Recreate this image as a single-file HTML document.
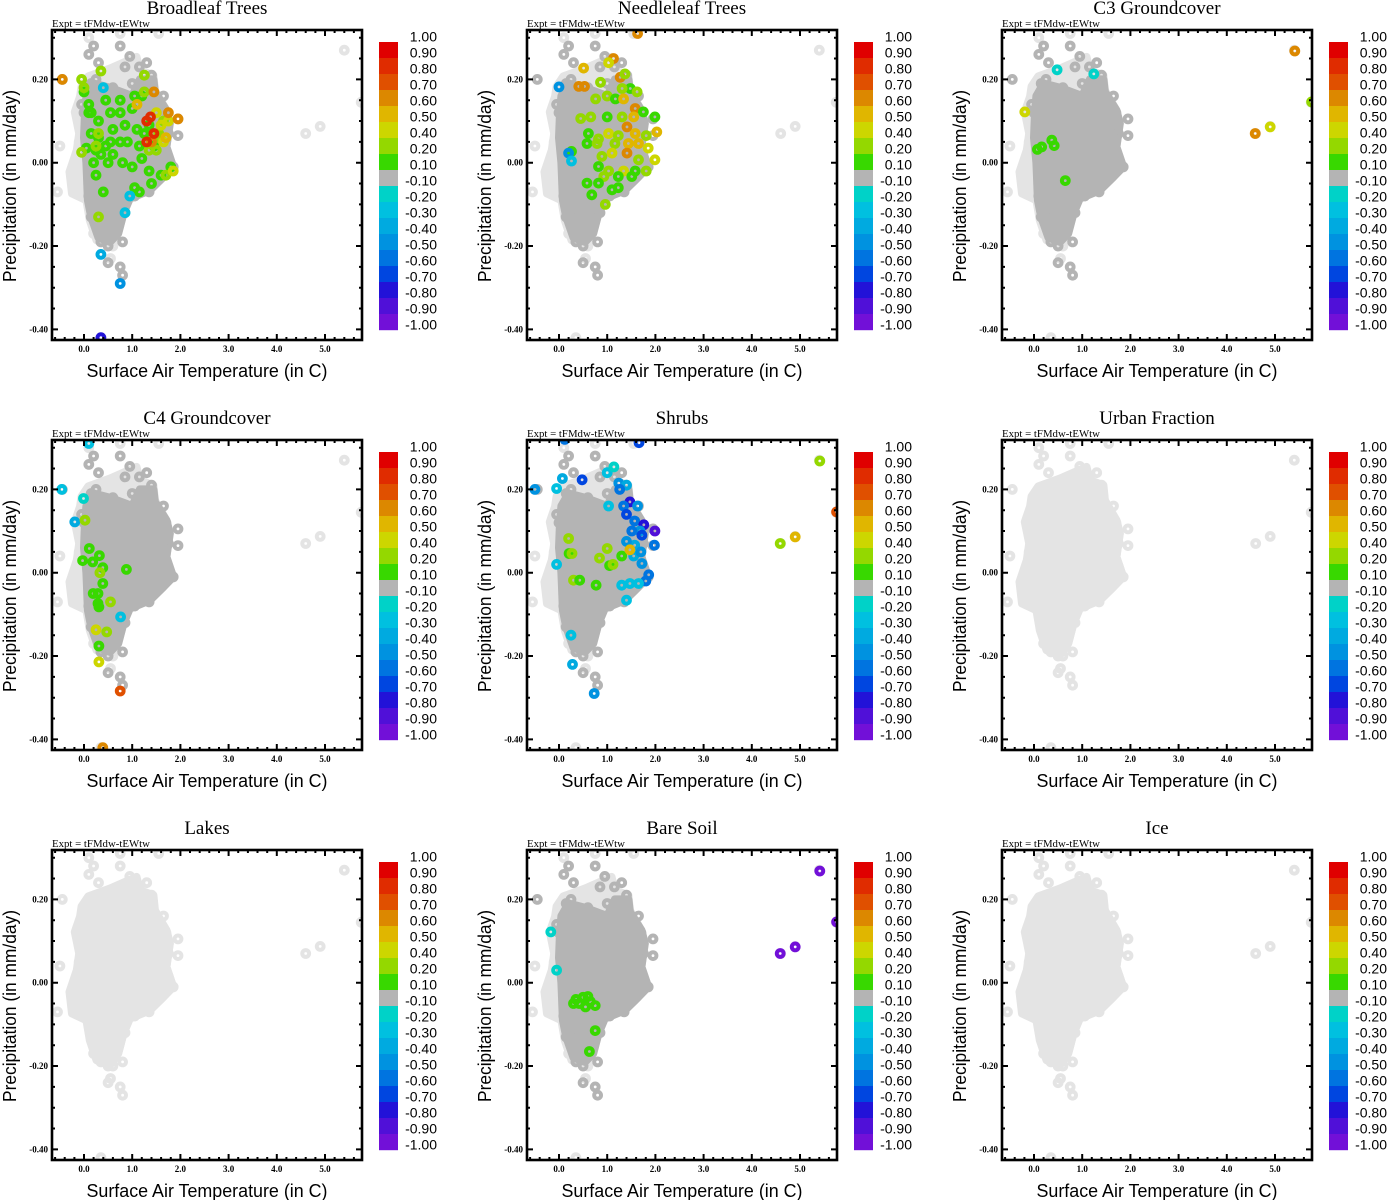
<!DOCTYPE html>
<html><head><meta charset="utf-8"><style>
html,body{margin:0;padding:0;background:#fff;}
svg{display:block;}
.ser{font-family:"Liberation Serif",serif;}
.sans{font-family:"Liberation Sans",sans-serif;}
</style></head><body>
<svg id="fig" width="1387" height="1200" viewBox="0 0 1387 1200"></svg>
<script>
// ---- data ----
const panelTitles = ["Broadleaf Trees","Needleleaf Trees","C3 Groundcover","C4 Groundcover","Shrubs","Urban Fraction","Lakes","Bare Soil","Ice"];
const panelLight = [false,false,false,false,false,true,true,false,true];
const xTicks = [0,1,2,3,4,5];
const xTickLabels = ["0.0","1.0","2.0","3.0","4.0","5.0"];
const yTicks = [0.2,0,-0.2,-0.4];
const yTickLabels = ["0.20","0.00","-0.20","-0.40"];
const cbEdges = [1,0.9,0.8,0.7,0.6,0.5,0.4,0.2,0.1,-0.1,-0.2,-0.3,-0.4,-0.5,-0.6,-0.7,-0.8,-0.9,-1];
const cbLabels = ["1.00","0.90","0.80","0.70","0.60","0.50","0.40","0.20","0.10","-0.10","-0.20","-0.30","-0.40","-0.50","-0.60","-0.70","-0.80","-0.90","-1.00"];
const cbColors = ["#e00000","#e02c00","#e05000","#dc8800","#e0b600","#cdd600","#94d800","#38d800","#b4b4b4","#00d2c8","#00c0e0","#00aae0","#0092e0","#0074e0","#0046e0","#2212d8","#5010d8","#7210d8"];
// cloud outline (T,P)
const haloT = [-0.05,0.09,0.54,1.09,1.16,1.44,1.47,1.71,1.78,1.71,1.85,1.65,1.37,0.95,0.82,0.71,0.54,0.26,0.12,0.05,-0.25,-0.3,-0.15,-0.1,-0.19,-0.08];
const haloP = [0.183,0.207,0.226,0.254,0.222,0.21,0.174,0.126,0.094,0.038,-0.01,-0.034,-0.066,-0.086,-0.122,-0.17,-0.198,-0.186,-0.138,-0.09,-0.074,-0.022,0.03,0.07,0.122,0.159];
const coreT = [0.05,0.2,0.54,1.0,1.16,1.44,1.47,1.71,1.78,1.71,1.85,1.65,1.37,0.95,0.82,0.71,0.54,0.3,0.15,0.08,0.05,0.0,0.02];
const coreP = [0.16,0.19,0.18,0.16,0.2,0.2,0.17,0.126,0.094,0.038,-0.01,-0.034,-0.066,-0.086,-0.122,-0.17,-0.19,-0.18,-0.13,-0.09,0.0,0.06,0.12];
// ring gray points (dark in vegetation panels)
const grayT = [0.2,0.75,0.95,0.85,0.3,1.4,0.25,1.0,1.2,1.65,0.15,0.6,-0.45,1.95,1.95,1.85,1.55,1.35,1.05,0.85,0.8,0.75,0.8,0.5,0.5,0.35,0.15,0.1,-0.05,0.0,1.7,1.75,1.6,0.3,0.65,0.7,0.45,1.2,0.1,1.3,1.15,0.4];
const grayP = [0.28,0.28,0.255,0.23,0.24,0.21,0.2,0.19,0.17,0.16,0.19,0.18,0.2,0.065,0.105,-0.01,-0.04,-0.07,-0.08,-0.12,-0.19,-0.25,-0.27,-0.24,-0.2,-0.19,-0.13,-0.08,0.14,0.12,0.12,0.07,0.1,-0.12,-0.16,-0.1,-0.14,0.13,0.26,0.24,0.23,0.15];
// light halo points (always light)
const lightT = [-0.5,-0.55,-0.2,-0.25,0.0,-0.05,0.1,0.55,0.65,1.55,0.75,5.4,4.6,4.9,5.75,0.35,0.55,0.15,-0.1,-0.1,0.0,0.6,0.2];
const lightP = [0.04,-0.07,-0.07,-0.03,-0.04,-0.08,0.3,0.22,0.2,0.31,0.31,0.27,0.07,0.087,0.145,-0.42,-0.23,-0.1,0.0,0.05,0.02,-0.2,-0.17];
// coloured points per panel: [T,P,value]
const broadleafPts = [[0.0,0.17,0.15],[0.1,0.14,0.15],[0.45,0.15,0.15],[0.75,0.15,0.15],[1.05,0.16,0.15],[1.0,0.13,0.15],[0.1,0.12,0.15],[0.15,0.12,0.15],[0.3,0.1,0.15],[0.55,0.12,0.15],[0.6,0.08,0.15],[0.85,0.09,0.15],[1.1,0.08,0.15],[1.25,0.07,0.15],[0.15,0.07,0.15],[0.3,0.06,0.15],[0.55,0.05,0.15],[0.75,0.05,0.15],[0.9,0.05,0.15],[1.15,0.04,0.15],[0.05,0.035,0.15],[0.25,0.03,0.15],[0.45,0.04,0.15],[0.2,0.0,0.15],[0.35,0.02,0.15],[0.6,0.02,0.15],[0.8,0.0,0.15],[1.0,-0.01,0.15],[1.2,0.01,0.15],[1.35,-0.02,0.15],[1.6,-0.03,0.15],[1.8,-0.01,0.15],[1.05,-0.06,0.15],[1.15,-0.07,0.15],[1.4,-0.05,0.15],[0.4,-0.07,0.15],[0.25,-0.03,0.15],[0.5,0.0,0.15],[1.2,0.16,0.15],[0.75,0.12,0.15],[1.35,0.09,0.15],[1.45,0.04,0.15],[0.35,0.22,0.3],[1.25,0.21,0.3],[-0.05,0.2,0.3],[0.0,0.18,0.3],[0.3,0.07,0.3],[0.25,0.04,0.3],[-0.05,0.025,0.3],[1.25,0.17,0.3],[1.55,0.07,0.3],[1.65,0.1,0.3],[1.5,0.03,0.3],[1.55,0.06,0.3],[0.3,-0.13,0.3],[1.7,-0.03,0.3],[1.35,0.03,0.3],[1.6,0.09,0.45],[1.5,0.12,0.45],[1.75,0.1,0.45],[1.85,-0.02,0.45],[1.65,0.05,0.45],[-0.45,0.2,0.65],[1.45,0.17,0.65],[1.1,0.14,0.55],[1.75,0.12,0.65],[1.95,0.105,0.65],[1.4,0.05,0.65],[1.7,0.06,0.55],[1.3,0.1,0.85],[1.38,0.11,0.85],[1.45,0.07,0.85],[1.3,0.05,0.85],[0.35,-0.22,-0.35],[0.75,-0.29,-0.45],[0.85,-0.12,-0.3],[0.95,-0.08,-0.25],[0.35,-0.42,-0.75],[0.4,0.18,-0.25]];
const needlePts = [[1.13,0.25,0.65],[1.03,0.24,0.45],[0.51,0.227,0.5],[1.27,0.205,0.6],[1.37,0.213,0.3],[0.86,0.193,0.35],[0.41,0.183,0.6],[0.53,0.183,0.6],[0.0,0.182,-0.45],[1.48,0.178,0.15],[1.31,0.178,0.35],[1.62,0.17,0.3],[0.76,0.153,0.35],[1.0,0.16,0.3],[1.17,0.153,0.15],[1.34,0.153,0.55],[1.58,0.13,0.65],[1.75,0.122,0.15],[1.99,0.11,0.15],[0.45,0.106,0.3],[0.66,0.11,0.3],[1.0,0.11,0.15],[1.31,0.11,0.35],[1.55,0.11,0.5],[1.41,0.086,0.65],[1.58,0.07,0.5],[2.03,0.074,0.55],[0.61,0.07,0.15],[0.82,0.057,0.3],[1.03,0.07,0.45],[1.23,0.065,0.3],[1.81,0.065,0.3],[0.58,0.046,0.15],[0.79,0.046,0.3],[1.16,0.046,0.35],[1.44,0.046,0.5],[1.65,0.046,0.55],[1.85,0.035,0.45],[1.41,0.023,0.65],[1.1,0.023,0.45],[0.89,0.015,0.3],[0.26,0.027,0.15],[1.65,0.007,0.3],[1.99,0.007,0.45],[0.82,-0.009,0.15],[1.03,-0.02,0.3],[1.34,-0.02,0.45],[1.58,-0.02,0.15],[1.81,-0.02,0.3],[0.93,-0.033,0.3],[1.23,-0.033,0.15],[1.51,-0.033,0.15],[0.58,-0.049,0.15],[0.82,-0.049,0.15],[1.1,-0.065,0.15],[1.23,-0.06,0.15],[0.68,-0.077,0.15],[0.96,-0.1,0.3],[0.2,0.023,-0.45],[0.26,0.004,-0.25],[1.63,0.31,0.65]];
const c3Pts = [[0.48,0.223,-0.2],[1.24,0.213,-0.2],[-0.19,0.122,0.45],[0.07,0.032,0.15],[0.16,0.038,0.15],[0.37,0.054,0.15],[0.42,0.041,0.15],[0.65,-0.043,0.15],[5.41,0.268,0.65],[4.59,0.07,0.65],[4.9,0.086,0.45],[5.76,0.146,0.3]];
const c4Pts = [[-0.46,0.2,-0.25],[-0.01,0.178,-0.2],[-0.19,0.122,-0.4],[0.02,0.126,0.3],[0.11,0.058,0.15],[0.32,0.041,0.15],[-0.03,0.029,0.15],[0.18,0.026,0.15],[0.39,0.012,0.15],[0.33,0.0,0.3],[0.88,0.008,0.15],[0.39,-0.026,0.15],[0.19,-0.05,0.15],[0.29,-0.05,0.15],[0.29,-0.074,0.15],[0.31,-0.082,0.15],[0.55,-0.07,0.3],[0.76,-0.106,-0.25],[0.25,-0.137,0.45],[0.47,-0.142,0.3],[0.31,-0.176,0.15],[0.31,-0.214,0.45],[0.75,-0.284,0.75],[0.39,-0.42,0.65],[0.1,0.31,-0.25]];
const shrubPts = [[-0.5,0.2,-0.5],[-0.05,0.202,-0.25],[0.12,0.32,-0.55],[1.66,0.312,-0.7],[0.48,0.223,-0.65],[1.0,0.24,-0.3],[1.14,0.254,-0.2],[1.24,0.215,-0.5],[1.4,0.21,-0.4],[1.26,0.2,-0.6],[1.47,0.17,-0.8],[1.63,0.16,-0.5],[1.34,0.16,-0.55],[1.4,0.14,-0.7],[1.57,0.124,-0.6],[1.76,0.115,-0.8],[1.99,0.1,-0.85],[1.68,0.1,-0.5],[1.51,0.1,-0.6],[1.72,0.09,-0.7],[1.98,0.066,-0.55],[1.57,0.066,-0.4],[1.4,0.075,-0.45],[1.72,0.022,-0.5],[1.86,-0.005,-0.55],[1.8,-0.02,-0.6],[1.65,-0.026,-0.3],[1.47,-0.026,-0.3],[1.3,-0.03,-0.25],[1.4,-0.066,-0.25],[0.07,0.226,-0.4],[-0.05,0.02,-0.25],[0.25,-0.15,-0.3],[0.28,-0.22,-0.35],[0.73,-0.29,-0.5],[1.03,0.16,-0.3],[1.55,0.04,-0.35],[1.7,0.05,-0.45],[0.2,0.082,0.3],[0.21,0.046,0.15],[0.27,0.046,0.3],[0.84,0.035,0.3],[1.0,0.058,0.3],[1.05,0.017,0.15],[1.12,0.02,0.3],[1.3,0.04,0.15],[1.47,0.055,0.5],[0.3,-0.018,0.3],[0.43,-0.018,0.15],[0.77,-0.03,0.15],[5.41,0.268,0.3],[4.59,0.07,0.3],[4.9,0.086,0.55],[5.76,0.146,0.7]];
const bareSoilPts = [[0.3,-0.05,0.15],[0.35,-0.04,0.15],[0.42,-0.05,0.15],[0.5,-0.035,0.15],[0.55,-0.058,0.15],[0.6,-0.033,0.15],[0.65,-0.045,0.15],[0.75,-0.055,0.15],[0.75,-0.115,0.15],[0.63,-0.165,0.15],[-0.17,0.122,-0.2],[-0.05,0.03,-0.2],[5.41,0.268,-0.95],[4.59,0.07,-0.95],[4.9,0.086,-0.95],[5.76,0.146,-0.95]];
const panelPts = [broadleafPts,needlePts,c3Pts,c4Pts,shrubPts,[],[],bareSoilPts,[]];

// ---- drawing ----
const NS="http://www.w3.org/2000/svg";
const fig=document.getElementById('fig');
const X0=52,X1=362,Y0=30,Y1=340;
function sx(t){return 84+48.2*t;}
function sy(p){return 162.7-416.7*p;}
function mk(tag,attrs,parent){const e=document.createElementNS(NS,tag);for(const k in attrs)e.setAttribute(k,attrs[k]);parent.appendChild(e);return e;}
function colorFor(v){for(let i=0;i<cbColors.length;i++){if(v<=cbEdges[i]&&v>=cbEdges[i+1])return cbColors[i];}return cbColors[v>0?0:cbColors.length-1];}
const DARK="#b4b4b4",LIGHT="#e4e4e4";
function ring(g,t,p,col){
  const c=mk('circle',{cx:sx(t).toFixed(1),cy:sy(p).toFixed(1),r:3.4,fill:'none',stroke:col,'stroke-width':4},g);
  
  
}
function poly(g,ts,ps,col,name){
  let pts=ts.map((t,i)=>sx(t).toFixed(1)+','+sy(ps[i]).toFixed(1)).join(' ');
  const e=mk('polygon',{points:pts,fill:col,stroke:col,'stroke-width':8,'stroke-linejoin':'round'},g);
  
  
}
panelTitles.forEach((title,k)=>{
  const ox=(k%3)*475, oy=Math.floor(k/3)*410;
  const g=mk('g',{transform:`translate(${ox},${oy})`},fig);
  
  
  const light=panelLight[k];
  const clip='clip'+k;
  const defs=mk('defs',{},g);
  const cp=mk('clipPath',{id:clip},defs);
  mk('rect',{x:X0,y:Y0,width:X1-X0,height:Y1-Y0},cp);
  const pg=mk('g',{'clip-path':`url(#${clip})`},g);
  
  
  poly(pg,haloT,haloP,LIGHT,'cloud-halo');
  lightT.forEach((t,i)=>ring(pg,t,lightP[i],LIGHT));
  poly(pg,coreT,coreP,light?LIGHT:DARK,'cloud-core');
  grayT.forEach((t,i)=>ring(pg,t,grayP[i],light?LIGHT:DARK));
  panelPts[k].forEach(d=>ring(pg,d[0],d[1],colorFor(d[2])));
  const fr=mk('rect',{x:X0,y:Y0,width:X1-X0,height:Y1-Y0,fill:'none',stroke:'#000','stroke-width':2.6},g);
  
  
  let d='';
  for(let t=-0.6;t<=5.81;t+=0.2){const x=sx(t);if(x<X0+1||x>X1-1)continue;const maj=Math.abs(t-Math.round(t))<0.01;const L=maj?6:3;d+=`M${x.toFixed(1)} ${Y1}v${-L}M${x.toFixed(1)} ${Y0}v${L}`;}
  for(let p=-0.4;p<=0.321;p+=0.05){const y=sy(p);if(y<Y0+1||y>Y1-1)continue;const maj=Math.abs(p*5-Math.round(p*5))<0.01;const L=maj?6:3;d+=`M${X0} ${y.toFixed(1)}h${L}M${X1} ${y.toFixed(1)}h${-L}`;}
  const tk=mk('path',{d:d,stroke:'#000','stroke-width':2,fill:'none'},g);
  
  
  xTicks.forEach((t,i)=>{const e=mk('text',{x:sx(t),y:352,'text-anchor':'middle','font-size':9,'font-weight':'bold',class:'ser'},g);e.textContent=xTickLabels[i];
    });
  yTicks.forEach((p,i)=>{const e=mk('text',{x:48,y:sy(p)+3,'text-anchor':'end','font-size':9,'font-weight':'bold',class:'ser'},g);e.textContent=yTickLabels[i];
    });
  const tt=mk('text',{x:207,y:14,'text-anchor':'middle','font-size':19,class:'ser'},g);tt.textContent=title;
  
  const ex=mk('text',{x:52,y:27,'font-size':10,class:'ser',textLength:98,lengthAdjust:'spacingAndGlyphs'},g);ex.textContent='Expt = tFMdw-tEWtw';
  
  const xl=mk('text',{x:207,y:377,'text-anchor':'middle','font-size':18,class:'sans',textLength:241,lengthAdjust:'spacingAndGlyphs'},g);xl.textContent='Surface Air Temperature (in C)';
  
  const yl=mk('text',{x:0,y:0,'text-anchor':'middle','font-size':18,class:'sans',textLength:192,lengthAdjust:'spacingAndGlyphs',transform:'translate(16,186) rotate(-90)'},g);yl.textContent='Precipitation (in mm/day)';
  
  const cb=mk('g',{},g);
  
  
  cbColors.forEach((c,i)=>{const r=mk('rect',{x:379,y:42+16*i,width:19,height:16.2,fill:c},cb);
    });
  cbLabels.forEach((s,i)=>{const e=mk('text',{x:437,y:42+16*i-0.5,'text-anchor':'end','font-size':14,class:'sans'},cb);e.textContent=s;
    });
});
</script>
</body></html>
